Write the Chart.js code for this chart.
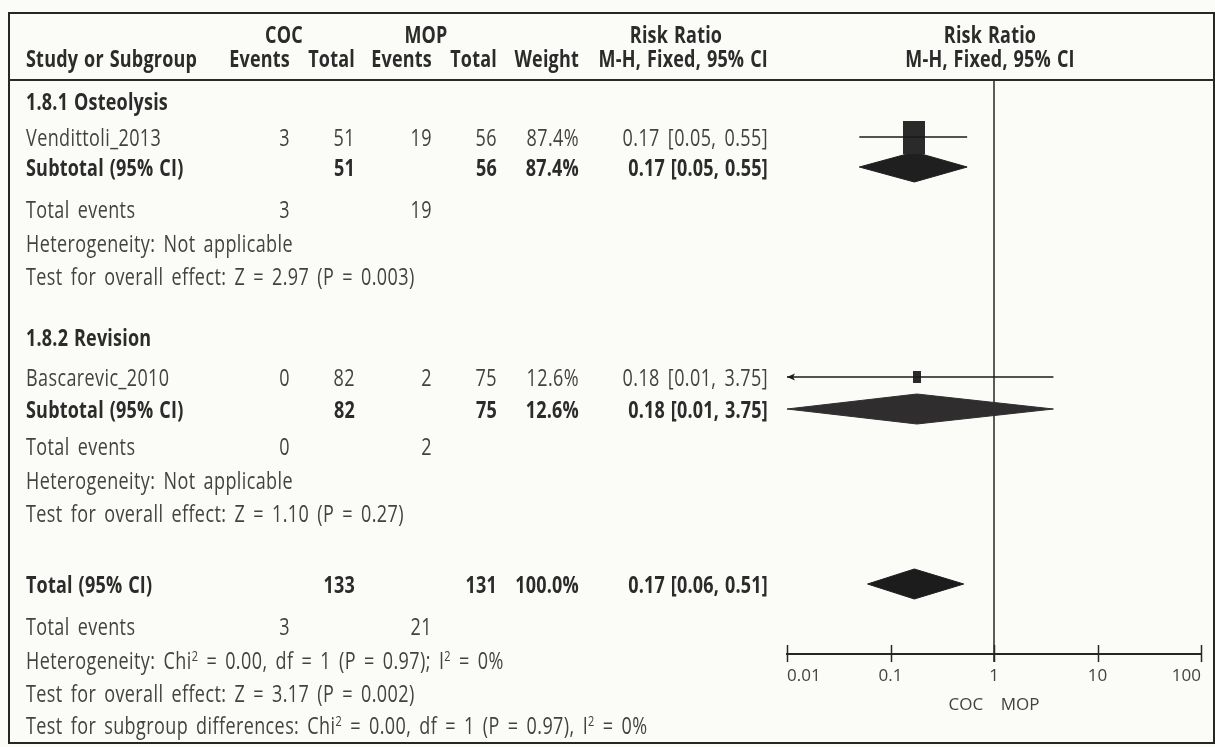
<!DOCTYPE html>
<html>
<head>
<meta charset="utf-8">
<title>Risk Ratio – COC vs MOP</title>
<script src="https://cdn.jsdelivr.net/npm/chart.js@4.4.1/dist/chart.umd.min.js"></script>
<style>
  html, body { margin: 0; padding: 0; background: #fbfbf7; }
  #stage { position: relative; width: 1215px; height: 747px; overflow: hidden; }
  #plot { position: absolute; left: 0; top: 0; }
  .frame { position: absolute; border: 2.5px solid #262626; box-sizing: border-box; }
  .rule { position: absolute; height: 2px; background: #2a2a2a; }
  .t { position: absolute; white-space: nowrap; font-family: "Open Sans", "Noto Sans", sans-serif;
       font-size: 18px; line-height: 20px; height: 20px; color: #424242;
       letter-spacing: 0.4px; word-spacing: 3px; }
  .t.b { font-weight: 700; color: #2b2b2b; letter-spacing: 0.2px; word-spacing: 1px; }
  .t sup { font-size: 11px; line-height: 0; vertical-align: 6px; }
</style>
</head>
<body>
<div id="stage">
  <canvas id="plot" width="1215" height="747"></canvas>
</div>
<script>
// ---- study data -------------------------------------------------------
const subgroupNames = ['1.8.1 Osteolysis', '1.8.2 Revision'];
const studyNames    = ['Vendittoli_2013', 'Bascarevic_2010'];
const studyGroup    = [0, 1];
const cocEvents     = [3, 0];
const cocTotals     = [51, 82];
const mopEvents     = [19, 2];
const mopTotals     = [56, 75];
const weights       = [87.4, 12.6];
const studyRR       = [0.17, 0.18];
const studyLow      = [0.05, 0.01];
const studyHigh     = [0.55, 3.75];
const subgroupRR    = [0.17, 0.18];
const subgroupLow   = [0.05, 0.01];
const subgroupHigh  = [0.55, 3.75];
const overallRR     = [0.17];
const overallLow    = [0.06];
const overallHigh   = [0.51];
const heterogeneityText = ['Heterogeneity: Not applicable', 'Heterogeneity: Not applicable'];
const overallEffectText = ['Test for overall effect: Z = 2.97 (P = 0.003)',
                           'Test for overall effect: Z = 1.10 (P = 0.27)'];
const totalHetText      = 'Heterogeneity: Chi² = 0.00, df = 1 (P = 0.97); I² = 0%';
const totalEffectText   = 'Test for overall effect: Z = 3.17 (P = 0.002)';
const subgroupDiffText  = 'Test for subgroup differences: Chi² = 0.00, df = 1 (P = 0.97), I² = 0%';
const axisTicks      = [0.01, 0.1, 1, 10, 100];
const axisTickLabels = ['0.01', '0.1', '1', '10', '100'];
const favourLabels   = ['COC', 'MOP'];

// ---- page layout (pixel rows / columns) -------------------------------
const W = 1215, H = 747;
const COL = { name: 26, cocE: 290, cocT: 355, mopE: 432, mopT: 497, wt: 579, ci: 768 };
const ROWS = {
  head1: 34, head2: 58, headRule: 80,
  groups: [
    { title: 101, studies: [137], sub: 167, events: 209, het: 243, effect: 276 },
    { title: 337, studies: [377], sub: 409, events: 446, het: 480, effect: 513 }
  ],
  total: 584, totalEvents: 626, totalHet: 660, totalEffect: 693, subgroupDiff: 725
};
const PLOT = { left: 787, right: 1201, top: 80, axisY: 654, bottom: 742 };
const DIAMOND_HALF = 15;
const Y_STRETCH = 1.27;

const stage = document.getElementById('stage');

function text(str, x, y, align, bold) {
  const d = document.createElement('div');
  d.className = 't' + (bold ? ' b' : '');
  d.innerHTML = String(str).replace(/²/g, '<sup>2</sup>');
  d.style.top = (y - 10) + 'px';
  let tf = 'scaleY(' + Y_STRETCH + ')';
  if (align === 'right') {
    d.style.right = (W - x) + 'px';
    d.style.transformOrigin = 'right center';
  } else if (align === 'center') {
    d.style.left = x + 'px';
    tf = 'translateX(-50%) ' + tf;
    d.style.transformOrigin = 'center center';
  } else {
    d.style.left = x + 'px';
    d.style.transformOrigin = 'left center';
  }
  d.style.transform = tf;
  stage.appendChild(d);
}

function frameBox(l, t, r, b) {
  const d = document.createElement('div');
  d.className = 'frame';
  Object.assign(d.style, { left: l + 'px', top: t + 'px', width: (r - l) + 'px', height: (b - t) + 'px' });
  stage.appendChild(d);
}
function rule(l, r, y) {
  const d = document.createElement('div');
  d.className = 'rule';
  Object.assign(d.style, { left: l + 'px', top: (y - 1) + 'px', width: (r - l) + 'px' });
  stage.appendChild(d);
}

const fmt2 = v => v.toFixed(2);
const ciText = (m, lo, hi) => fmt2(m) + ' [' + fmt2(lo) + ', ' + fmt2(hi) + ']';
const sum = a => a.reduce((s, v) => s + v, 0);

// ---- table frame and header ---------------------------------------------
frameBox(8, 12, 1215, 744);
rule(8, 1214, ROWS.headRule);

text('COC', 284, ROWS.head1, 'center', true);
text('MOP', 426, ROWS.head1, 'center', true);
text('Risk Ratio', 676, ROWS.head1, 'center', true);
text('Risk Ratio', 990, ROWS.head1, 'center', true);
text('Study or Subgroup', COL.name, ROWS.head2, 'left', true);
text('Events', COL.cocE, ROWS.head2, 'right', true);
text('Total', COL.cocT, ROWS.head2, 'right', true);
text('Events', COL.mopE, ROWS.head2, 'right', true);
text('Total', COL.mopT, ROWS.head2, 'right', true);
text('Weight', COL.wt, ROWS.head2, 'right', true);
text('M-H, Fixed, 95% CI', COL.ci, ROWS.head2, 'right', true);
text('M-H, Fixed, 95% CI', 990, ROWS.head2, 'center', true);

// ---- subgroup blocks ----------------------------------------------------
subgroupNames.forEach((g, gi) => {
  const r = ROWS.groups[gi];
  const idx = studyGroup.map((s, i) => s === gi ? i : -1).filter(i => i >= 0);
  text(g, COL.name, r.title, 'left', true);
  idx.forEach((i, k) => {
    const y = r.studies[k];
    text(studyNames[i], COL.name, y, 'left');
    text(cocEvents[i], COL.cocE, y, 'right');
    text(cocTotals[i], COL.cocT, y, 'right');
    text(mopEvents[i], COL.mopE, y, 'right');
    text(mopTotals[i], COL.mopT, y, 'right');
    text(weights[i].toFixed(1) + '%', COL.wt, y, 'right');
    text(ciText(studyRR[i], studyLow[i], studyHigh[i]), COL.ci, y, 'right');
  });
  text('Subtotal (95% CI)', COL.name, r.sub, 'left', true);
  text(sum(idx.map(i => cocTotals[i])), COL.cocT, r.sub, 'right', true);
  text(sum(idx.map(i => mopTotals[i])), COL.mopT, r.sub, 'right', true);
  text(sum(idx.map(i => weights[i])).toFixed(1) + '%', COL.wt, r.sub, 'right', true);
  text(ciText(subgroupRR[gi], subgroupLow[gi], subgroupHigh[gi]), COL.ci, r.sub, 'right', true);
  text('Total events', COL.name, r.events, 'left');
  text(sum(idx.map(i => cocEvents[i])), COL.cocE, r.events, 'right');
  text(sum(idx.map(i => mopEvents[i])), COL.mopE, r.events, 'right');
  text(heterogeneityText[gi], COL.name, r.het, 'left');
  text(overallEffectText[gi], COL.name, r.effect, 'left');
});

// ---- overall block ------------------------------------------------------
text('Total (95% CI)', COL.name, ROWS.total, 'left', true);
text(sum(cocTotals), COL.cocT, ROWS.total, 'right', true);
text(sum(mopTotals), COL.mopT, ROWS.total, 'right', true);
text(sum(weights).toFixed(1) + '%', COL.wt, ROWS.total, 'right', true);
text(ciText(overallRR[0], overallLow[0], overallHigh[0]), COL.ci, ROWS.total, 'right', true);
text('Total events', COL.name, ROWS.totalEvents, 'left');
text(sum(cocEvents), COL.cocE, ROWS.totalEvents, 'right');
text(sum(mopEvents), COL.mopE, ROWS.totalEvents, 'right');
text(totalHetText, COL.name, ROWS.totalHet, 'left');
text(totalEffectText, COL.name, ROWS.totalEffect, 'left');
text(subgroupDiffText, COL.name, ROWS.subgroupDiff, 'left');

// ---- marker shapes ------------------------------------------------------
function boxImage(weight) {
  const k = Math.sqrt(weight / 100);
  const w = Math.max(6, Math.round(23 * k)), h = Math.max(8, Math.round(35 * k));
  const c = document.createElement('canvas');
  c.width = w; c.height = h;
  const g = c.getContext('2d');
  g.fillStyle = '#2a2a2a';
  g.fillRect(0, 0, w, h);
  return c;
}
function leftArrowImage() {
  // tip sits at the image centre so it lands on the clipped bound
  const c = document.createElement('canvas');
  c.width = 18; c.height = 10;
  const g = c.getContext('2d');
  g.fillStyle = '#1a1a1a';
  g.beginPath();
  g.moveTo(9, 5); g.lineTo(17, 1.5); g.lineTo(15, 5); g.lineTo(17, 8.5); g.closePath();
  g.fill();
  return c;
}

const datasets = [];
const xMin = axisTicks[0], xMax = axisTicks[axisTicks.length - 1];

function addDiamond(m, lo, hi, y, color) {
  const h = DIAMOND_HALF;
  datasets.push({
    type: 'scatter', showLine: true, fill: 'shape',
    data: [{ x: Math.max(lo, xMin), y }, { x: m, y: y - h }, { x: Math.min(hi, xMax), y },
           { x: m, y: y + h }, { x: Math.max(lo, xMin), y }],
    borderColor: color, backgroundColor: color, borderWidth: 1,
    pointRadius: 0, tension: 0, clip: false
  });
}

subgroupNames.forEach((g, gi) => {
  const r = ROWS.groups[gi];
  const idx = studyGroup.map((s, i) => s === gi ? i : -1).filter(i => i >= 0);
  idx.forEach((i, k) => {
    const y = r.studies[k];
    datasets.push({
      type: 'scatter', showLine: true,
      data: [{ x: Math.max(studyLow[i], xMin), y }, { x: Math.min(studyHigh[i], xMax), y }],
      borderColor: '#1a1a1a', borderWidth: 1.5, pointRadius: 0, clip: false
    });
    datasets.push({
      type: 'scatter', data: [{ x: studyRR[i], y }],
      pointStyle: boxImage(weights[i]), pointRadius: 10, clip: false
    });
    if (studyLow[i] <= xMin) {
      datasets.push({
        type: 'scatter', data: [{ x: xMin, y }],
        pointStyle: leftArrowImage(), pointRadius: 5, clip: false
      });
    }
  });
  addDiamond(subgroupRR[gi], subgroupLow[gi], subgroupHigh[gi], r.sub, gi === 0 ? '#1f1f1f' : '#2f2d2e');
});
addDiamond(overallRR[0], overallLow[0], overallHigh[0], ROWS.total, '#1c1c1c');

// null line at RR = 1 plus tick marks straddling the axis
const refLines = {
  id: 'refLines',
  beforeDatasetsDraw(chart) {
    const { ctx, scales: { x, y } } = chart;
    const px = x.getPixelForValue(1);
    ctx.save();
    ctx.strokeStyle = '#262626';
    ctx.lineWidth = 1.5;
    ctx.beginPath();
    ctx.moveTo(px, y.getPixelForValue(PLOT.top));
    ctx.lineTo(px, y.getPixelForValue(PLOT.axisY) + 8);
    ctx.stroke();
    ctx.restore();
  },
  afterDraw(chart) {
    const { ctx, scales: { x, y } } = chart;
    const ay = y.getPixelForValue(PLOT.axisY);
    ctx.save();
    ctx.strokeStyle = '#262626';
    ctx.lineWidth = 1.5;
    axisTicks.forEach(v => {
      const px = Math.round(x.getPixelForValue(v)) + 0.5;
      ctx.beginPath();
      ctx.moveTo(px, ay - 9);
      ctx.lineTo(px, ay + 8);
      ctx.stroke();
    });
    ctx.restore();
  }
};

const AXIS_H = 61;
new Chart(document.getElementById('plot'), {
  type: 'scatter',
  data: { datasets },
  options: {
    responsive: false,
    animation: false,
    events: [],
    layout: { padding: { left: PLOT.left, right: W - PLOT.right, top: PLOT.top, bottom: H - PLOT.axisY - AXIS_H } },
    plugins: { legend: { display: false }, tooltip: { enabled: false } },
    scales: {
      x: {
        type: 'logarithmic', min: xMin, max: xMax, position: 'bottom',
        afterBuildTicks: s => { s.ticks = axisTicks.map(v => ({ value: v })); },
        afterFit: s => { s.height = AXIS_H; },
        ticks: {
          autoSkip: false, maxRotation: 0, align: 'inner', padding: 12,
          color: '#424242', font: { family: 'Open Sans', size: 17 },
          callback: (v) => axisTickLabels[axisTicks.indexOf(v)] ?? ''
        },
        grid: { display: false, drawTicks: false },
        border: { display: true, color: '#262626', width: 2 },
        title: {
          display: true, text: favourLabels.join('    '), color: '#424242',
          font: { family: 'Open Sans', size: 17 }, padding: { top: 0, bottom: 0 }
        }
      },
      y: { type: 'linear', min: PLOT.top, max: PLOT.axisY, reverse: true, display: false }
    }
  },
  plugins: [refLines]
});
</script>
</body>
</html>
